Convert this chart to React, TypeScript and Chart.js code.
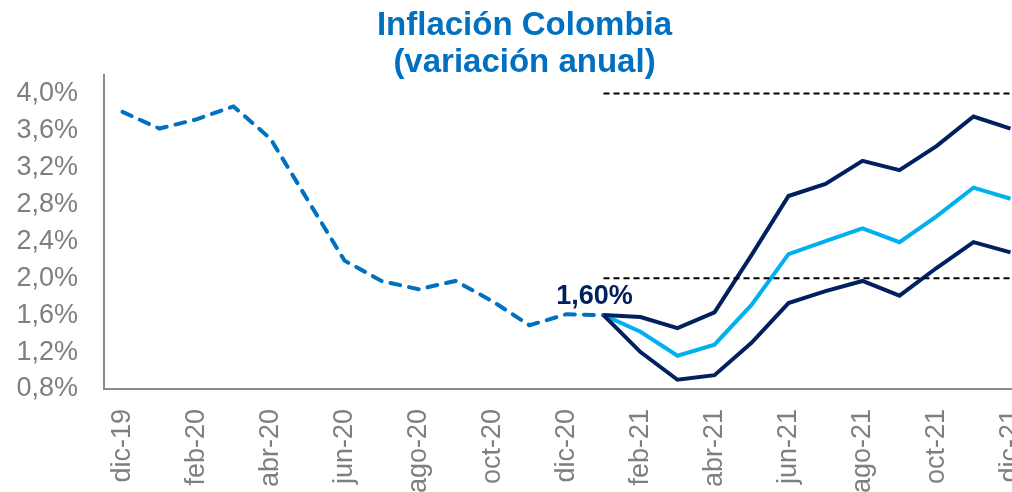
import React, { useEffect, useRef } from 'react';
import { Chart, registerables } from 'chart.js';

Chart.register(...registerables);

const months = ['dic-19', 'ene-20', 'feb-20', 'mar-20', 'abr-20', 'may-20', 'jun-20', 'jul-20', 'ago-20', 'sep-20', 'oct-20', 'nov-20', 'dic-20', 'ene-21', 'feb-21', 'mar-21', 'abr-21', 'may-21', 'jun-21', 'jul-21', 'ago-21', 'sep-21', 'oct-21', 'nov-21', 'dic-21'];

// Observed inflation, dic-19 .. ene-21
const historical = [3.80, 3.62, 3.72, 3.86, 3.51, 2.85, 2.19, 1.97, 1.88, 1.97, 1.75, 1.49, 1.61, 1.60];

// Forecast paths, ene-21 .. dic-21
const forecastStart = 'ene-21';
const upperPath = [1.60, 1.58, 1.46, 1.63, 2.25, 2.89, 3.02, 3.27, 3.17, 3.43, 3.75, 3.62];
const centralPath = [1.60, 1.42, 1.16, 1.28, 1.71, 2.26, 2.40, 2.54, 2.39, 2.67, 2.98, 2.86];
const lowerPath = [1.60, 1.20, 0.90, 0.95, 1.30, 1.73, 1.86, 1.97, 1.81, 2.11, 2.39, 2.28];

// Target range bounds
const targetHigh = [4.0, 4.0, 4.0, 4.0, 4.0, 4.0, 4.0, 4.0, 4.0, 4.0, 4.0, 4.0];
const targetLow = [2.0, 2.0, 2.0, 2.0, 2.0, 2.0, 2.0, 2.0, 2.0, 2.0, 2.0, 2.0];

const yTicks = [0.8, 1.2, 1.6, 2.0, 2.4, 2.8, 3.2, 3.6, 4.0];
const titleLines = ['Inflación Colombia', '(variación anual)'];

const FONT = "'Liberation Sans', Arial, Helvetica, sans-serif";
const fmt = (v: number, d: number) => v.toFixed(d).replace('.', ',') + '%';

export default function App() {
  const ref = useRef<HTMLCanvasElement>(null);

  useEffect(() => {
    if (!ref.current) return;
    const start = months.indexOf(forecastStart);
    const pad = (arr: number[]) => [...Array(start).fill(null), ...arr];
    const hist = [...historical, ...Array(months.length - historical.length).fill(null)];

    const titlePlugin = {
      id: 'customTitle',
      afterDraw(chart: any) {
        const ctx = chart.ctx;
        ctx.save();
        ctx.fillStyle = '#0070C0';
        ctx.font = `bold 33px ${FONT}`;
        ctx.textAlign = 'center';
        ctx.textBaseline = 'alphabetic';
        ctx.fillText(titleLines[0], chart.width / 2, 35);
        ctx.fillText(titleLines[1], chart.width / 2, 72);
        ctx.restore();
      },
    };

    const labelPlugin = {
      id: 'pointLabel',
      afterDatasetsDraw(chart: any) {
        const idx = chart.data.datasets.findIndex((d: any) => d.label === 'Observada');
        const meta = chart.getDatasetMeta(idx);
        const pt = meta.data[start];
        if (!pt) return;
        const ctx = chart.ctx;
        ctx.save();
        ctx.fillStyle = '#002060';
        ctx.font = `bold 27px ${FONT}`;
        ctx.textAlign = 'center';
        ctx.textBaseline = 'alphabetic';
        ctx.fillText(fmt(historical[start], 2), pt.x - 9, pt.y - 11);
        ctx.restore();
      },
    };

    const chart = new Chart(ref.current, {
      type: 'line',
      data: {
        labels: months,
        datasets: [
          { label: 'Meta sup', data: pad(targetHigh), borderColor: '#000000', borderWidth: 2, borderDash: [6, 4], pointRadius: 0, fill: false },
          { label: 'Meta inf', data: pad(targetLow), borderColor: '#000000', borderWidth: 2, borderDash: [6, 4], pointRadius: 0, fill: false },
          { label: 'Alto', data: pad(upperPath), borderColor: '#002060', borderWidth: 4, pointRadius: 0, fill: false },
          { label: 'Bajo', data: pad(lowerPath), borderColor: '#002060', borderWidth: 4, pointRadius: 0, fill: false },
          { label: 'Central', data: pad(centralPath), borderColor: '#00B0F0', borderWidth: 4, pointRadius: 0, fill: false },
          { label: 'Observada', data: hist, borderColor: '#0070C0', borderWidth: 4, borderDash: [10, 9], borderCapStyle: 'round', pointRadius: 0, fill: false },
        ],
      },
      options: {
        responsive: false,
        animation: false,
        layout: { padding: { top: 75, right: 20, left: 0, bottom: 0 } },
        plugins: { legend: { display: false }, title: { display: false }, tooltip: { enabled: false } },
        scales: {
          x: {
            offset: true,
            grid: { display: false, drawTicks: false, offset: true },
            border: { display: true, color: '#8a8a8a', width: 2 },
            ticks: {
              autoSkip: false,
              minRotation: 90,
              maxRotation: 90,
              padding: 20,
              color: '#7f7f7f',
              font: { family: FONT, size: 27 },
              callback: (_v: any, i: number) => (i % 2 === 0 ? months[i] : ''),
            },
            afterFit: (s: any) => { s.height = 103; s.paddingRight = 0; s.paddingLeft = 0; },
          },
          y: {
            min: 0.8,
            max: 4.2,
            grid: { display: false, drawTicks: false },
            border: { display: true, color: '#8a8a8a', width: 2 },
            afterBuildTicks: (s: any) => { s.ticks = yTicks.map((v) => ({ value: v })); },
            afterFit: (s: any) => { s.width = 104; },
            ticks: {
              padding: 26,
              color: '#7f7f7f',
              font: { family: FONT, size: 27 },
              callback: (v: any) => fmt(Number(v), 1),
            },
          },
        },
      },
      plugins: [titlePlugin, labelPlugin],
    } as any);
    return () => chart.destroy();
  }, []);

  return (
    <div style={{ position: 'fixed', left: 0, top: 0, width: 1012, height: 492, overflow: 'hidden', background: '#ffffff' }}>
      <canvas ref={ref} width={1049} height={492} style={{ display: 'block', width: 1049, height: 492 }} />
    </div>
  );
}
